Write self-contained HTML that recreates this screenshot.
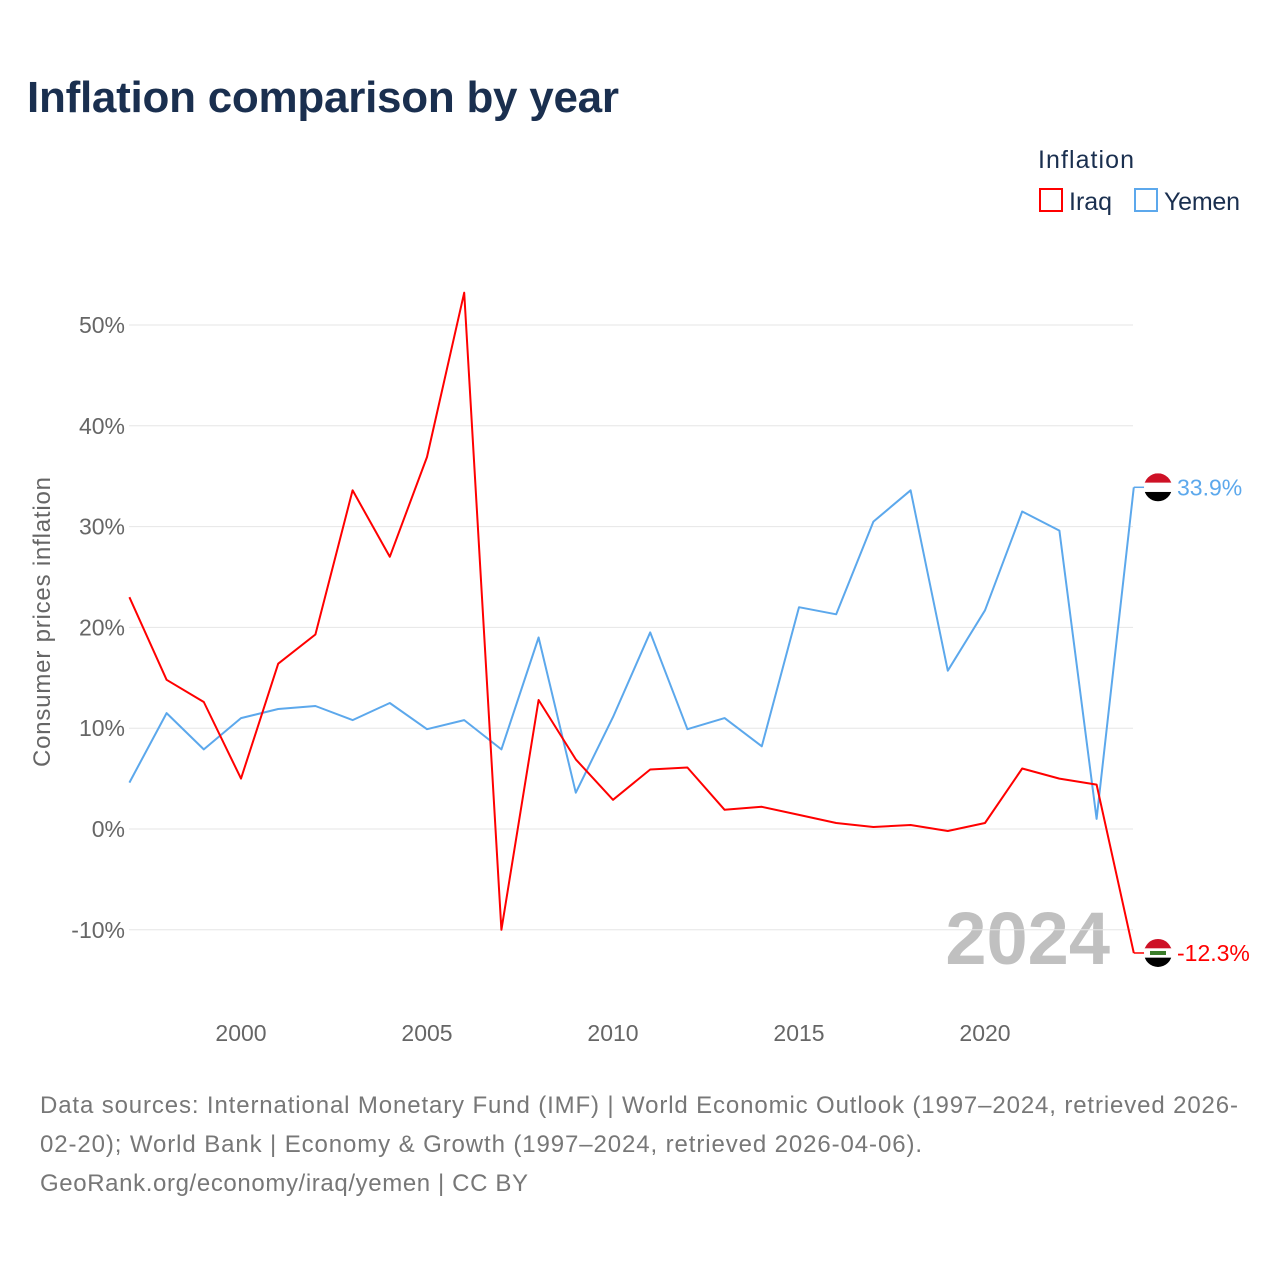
<!DOCTYPE html>
<html><head><meta charset="utf-8">
<style>
body{margin:0;background:#fff;font-family:"Liberation Sans",sans-serif;}
#wrap{position:relative;width:1280px;height:1280px;overflow:hidden;}
</style></head>
<body>
<div id="wrap">
<svg id="chart" width="1280" height="1280">
<text x="27" y="112" font-size="44" font-weight="bold" fill="#1a2f4f" textLength="592">Inflation comparison by year</text>
<g>
<text x="1038" y="168" font-size="25" fill="#1a2f4f" textLength="96">Inflation</text>
<g>
<rect x="1040" y="189" width="22" height="22" fill="none" stroke="#ff0000" stroke-width="2"/>
<text x="1069" y="210" font-size="25" fill="#1a2f4f">Iraq</text></g>
<g>
<rect x="1135" y="189" width="22" height="22" fill="none" stroke="#5ca8ec" stroke-width="2"/>
<text x="1164" y="210" font-size="25" fill="#1a2f4f" textLength="76">Yemen</text></g>
</g>
<text transform="translate(50,622) rotate(-90)" text-anchor="middle" font-size="24" fill="#666" textLength="290">Consumer prices inflation</text>
<text x="1110" y="964" text-anchor="end" font-size="74" font-weight="bold" fill="#c0c0c0">2024</text>
<g id="grid"></g><g id="series"></g>
<text x="40" y="1113" font-size="24" fill="#777" textLength="1198">Data sources: International Monetary Fund (IMF) | World Economic Outlook (1997–2024, retrieved 2026-</text>
<text x="40" y="1152" font-size="24" fill="#777" textLength="882">02-20); World Bank | Economy &amp; Growth (1997–2024, retrieved 2026-04-06).</text>
<text x="40" y="1191" font-size="24" fill="#777" textLength="488">GeoRank.org/economy/iraq/yemen | CC BY</text>
</svg>
</div>
<script>
const years=[1997,1998,1999,2000,2001,2002,2003,2004,2005,2006,2007,2008,2009,2010,2011,2012,2013,2014,2015,2016,2017,2018,2019,2020,2021,2022,2023,2024];
const iraq=[23.0,14.8,12.6,5.0,16.4,19.3,33.6,27.0,36.9,53.2,-10.0,12.8,6.9,2.9,5.9,6.1,1.9,2.2,1.4,0.6,0.2,0.4,-0.2,0.6,6.0,5.0,4.4,-12.3];
const yemen=[4.6,11.5,7.9,11.0,11.9,12.2,10.8,12.5,9.9,10.8,7.9,19.0,3.6,11.1,19.5,9.9,11.0,8.2,22.0,21.3,30.5,33.6,15.7,21.7,31.5,29.6,1.0,33.9];
const yTicks=[-10,0,10,20,30,40,50];
const xTicks=[2000,2005,2010,2015,2020];
const NS="http://www.w3.org/2000/svg";
const X=y=>241+(y-2000)*37.2;
const Y=v=>829-v*10.08;
const grid=document.getElementById('grid'),ser=document.getElementById('series');
function mk(tag,attrs,parent){const e=document.createElementNS(NS,tag);for(const k in attrs)e.setAttribute(k,attrs[k]);parent.appendChild(e);return e;}
yTicks.forEach(t=>{
 const l=mk('line',{x1:129,x2:1133,y1:Y(t),y2:Y(t),stroke:'#e6e6e6','stroke-width':1},grid);
 
 
 const tx=mk('text',{x:125,y:Y(t)+8,'text-anchor':'end','font-size':23,fill:'#666'},grid);
 tx.textContent=t+'%';
 
 
});
xTicks.forEach(t=>{
 const tx=mk('text',{x:X(t),y:1041,'text-anchor':'middle','font-size':23,fill:'#666'},grid);
 tx.textContent=t;
 
 
});
function draw(vals,color,name,flagCols,emblem){
 const d=vals.map((v,i)=>(i?'L':'M')+X(years[i]).toFixed(1)+' '+Y(v).toFixed(1)).join(' ');
 const p=mk('path',{d:d,fill:'none',stroke:color,'stroke-width':2,'stroke-linejoin':'round'},ser);
 
 
 const last=vals[vals.length-1],ly=Y(last),lx=X(years[years.length-1]);
 const c=mk('line',{x1:lx,x2:1146,y1:ly,y2:ly,stroke:color,'stroke-width':1.5},ser);
 
 
 const g=mk('g',{},ser);
 
 
 const cid='clip'+name;
 const cp=mk('clipPath',{id:cid},g);mk('circle',{cx:1158,cy:ly,r:14},cp);
 flagCols.forEach((fc,i)=>mk('rect',{x:1144,y:ly-14+i*28/3,width:28,height:28/3+0.5,fill:fc,'clip-path':'url(#'+cid+')'},g));
 if(emblem)mk('rect',{x:1150,y:ly-2,width:16,height:4,fill:'#3a7d2a'},g);
 const t=mk('text',{x:1177,y:ly+8,'font-size':23,fill:color},ser);
 t.textContent=last.toFixed(1)+'%';
 
 
}
draw(yemen,'#5ca8ec','yemen',['#ce1126','#ffffff','#000000'],false);
draw(iraq,'#ff0000','iraq',['#ce1126','#ffffff','#000000'],true);
</script>
</body></html>
